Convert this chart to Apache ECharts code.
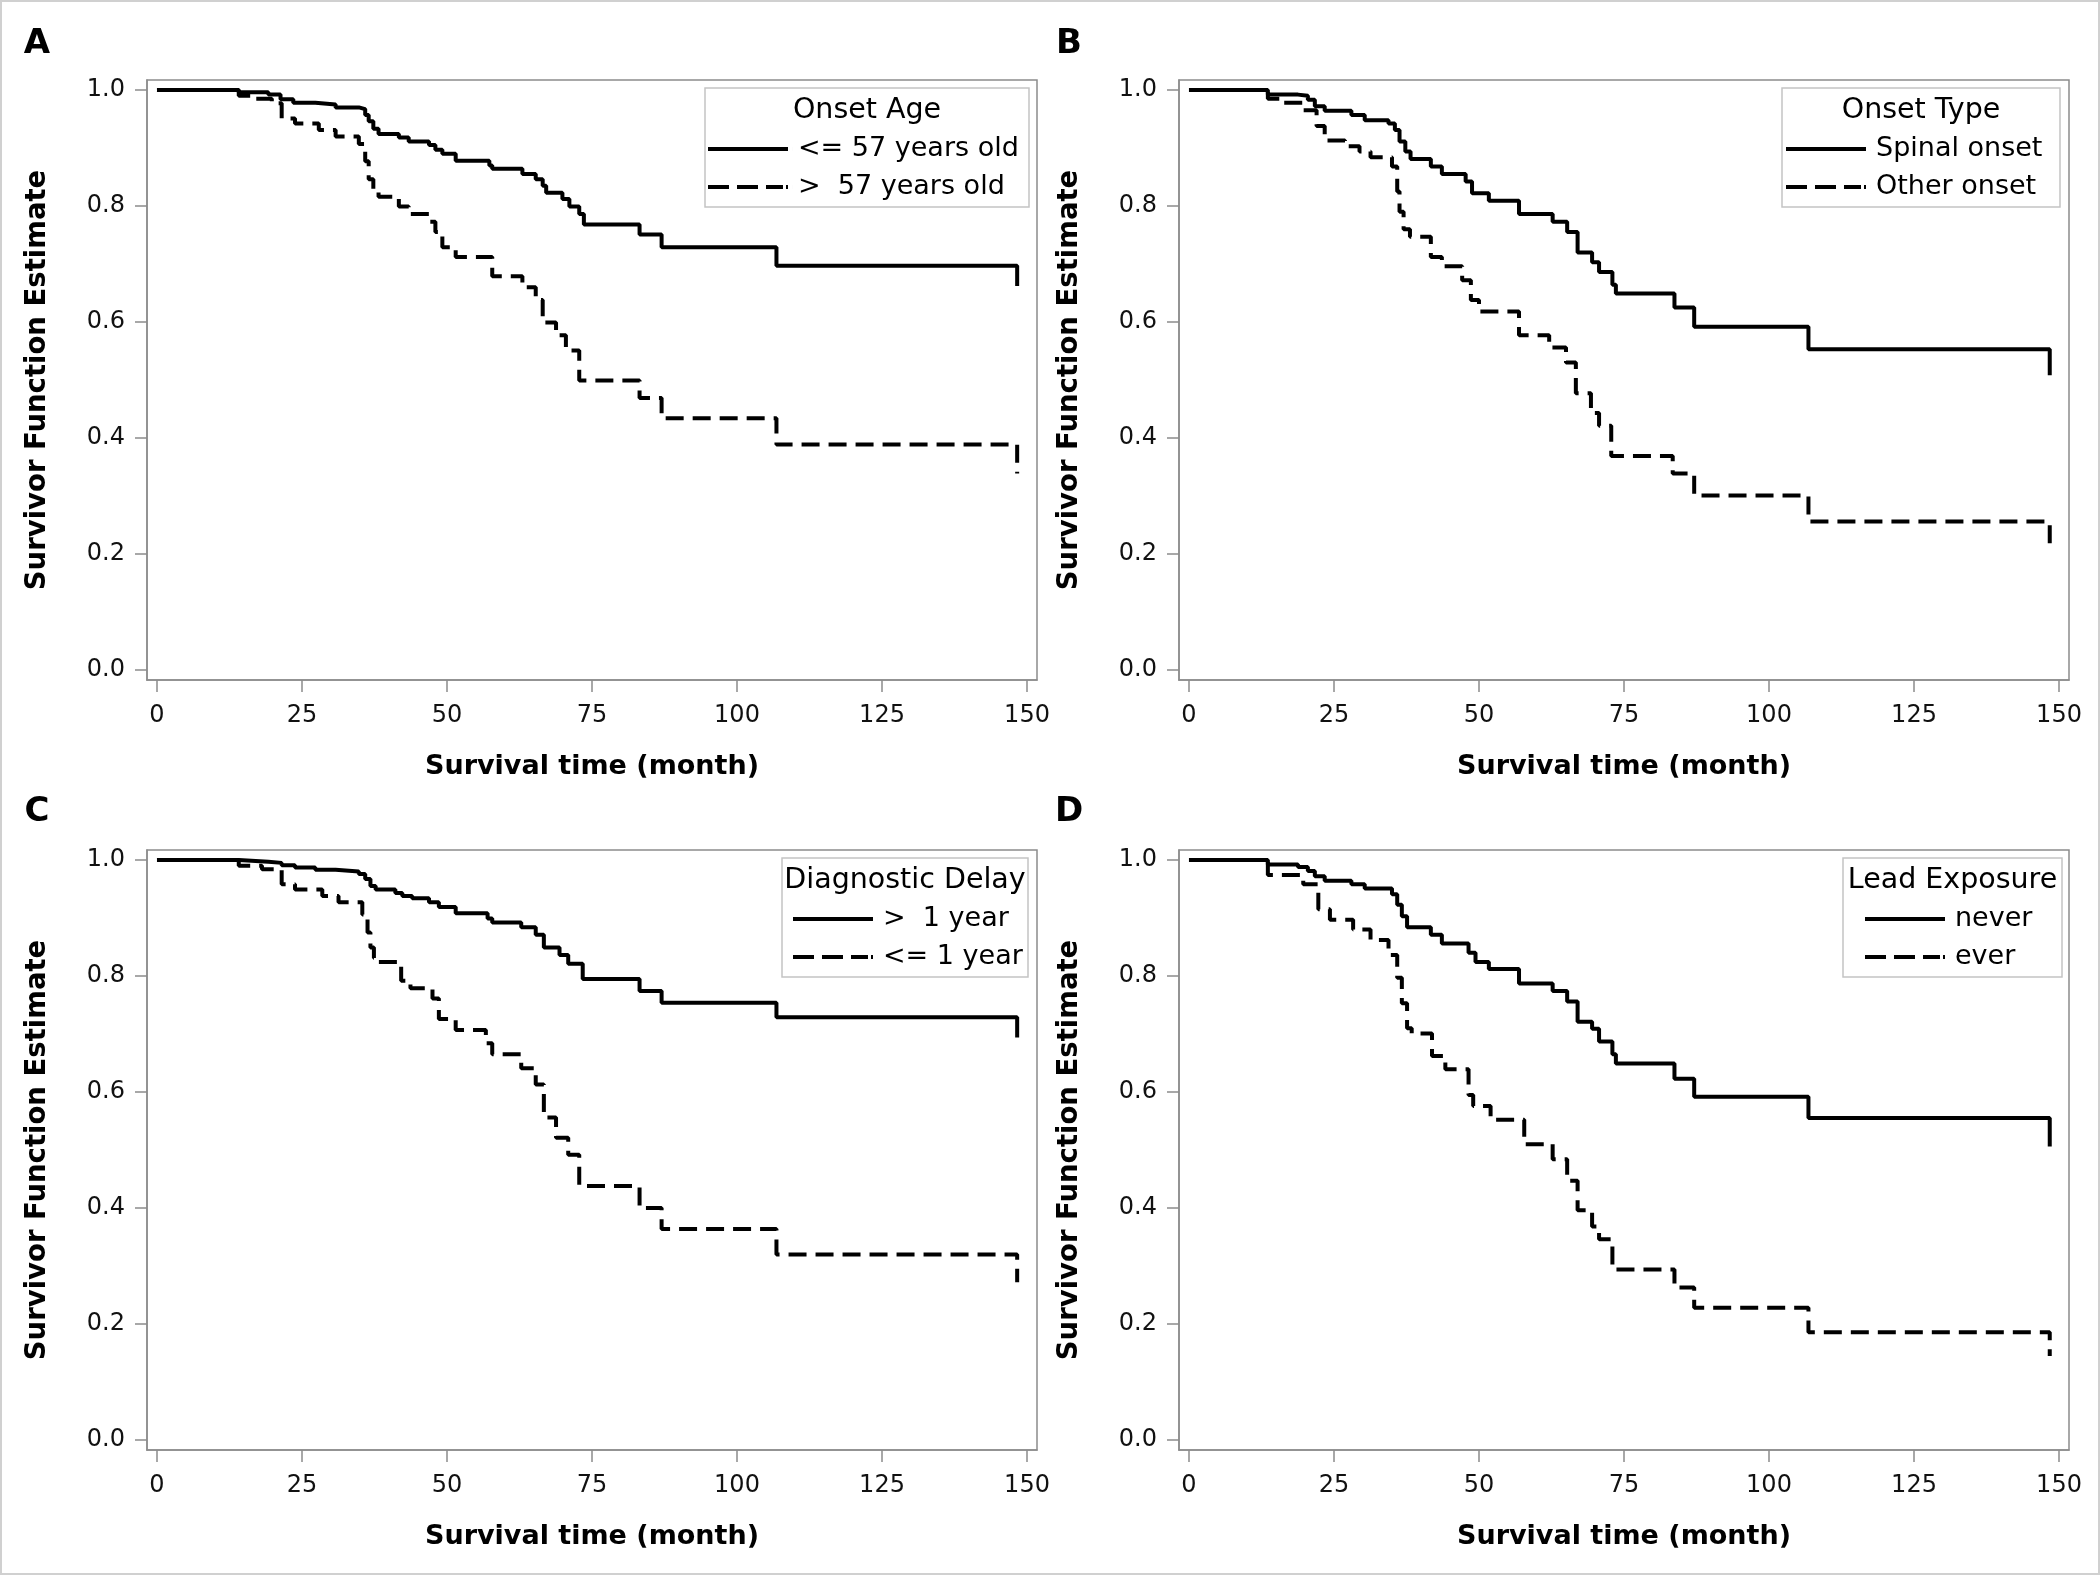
<!DOCTYPE html>
<html>
<head>
<meta charset="utf-8">
<script src="https://cdn.jsdelivr.net/npm/echarts@6/dist/echarts.min.js"></script>
<style>
html,body{margin:0;padding:0;background:#fff;}
#chart{width:2100px;height:1575px;}
</style>
</head>
<body>
<div id="chart"></div>
<script>
// ---------- data ----------
const xTicks = [0, 25, 50, 75, 100, 125, 150];
const yTicks = [0, 0.2, 0.4, 0.6, 0.8, 1.0];
const panelLetters = ['A', 'B', 'C', 'D'];
const legendTitles = ['Onset Age', 'Onset Type', 'Diagnostic Delay', 'Lead Exposure'];
const groupLabels = [
  ['<= 57 years old', '>  57 years old'],
  ['Spinal onset', 'Other onset'],
  ['>  1 year', '<= 1 year'],
  ['never', 'ever']
];
const xTitle = 'Survival time (month)';
const yTitle = 'Survivor Function Estimate';

// Panel A: onset age
const ageYoungTime = [0,14.1,19.2,21.3,23.5,27.3,30.8,34.8,35.9,36.5,37.3,38.2,41.7,43.4,46.9,48.0,49.2,51.5,57.3,57.8,63.0,65.3,66.5,67.1,69.9,71.1,72.8,73.6,83.2,87.0,106.8,148.3];
const ageYoungSurv = [1,0.996,0.992,0.984,0.978,0.975,0.970,0.967,0.957,0.946,0.933,0.924,0.918,0.911,0.905,0.897,0.890,0.878,0.870,0.864,0.855,0.846,0.835,0.823,0.812,0.799,0.786,0.768,0.751,0.729,0.697,0.662];
const ageOldTime = [0,14.1,16.9,19.8,21.5,23.8,27.9,30.8,34.8,35.9,36.5,37.3,38.2,41.7,43.4,46.9,48.0,49.2,51.5,57.8,63.0,65.3,66.5,68.8,70.5,72.8,83.2,87.0,106.8,148.3];
const ageOldSurv = [1,0.990,0.985,0.977,0.951,0.942,0.931,0.920,0.907,0.877,0.846,0.825,0.816,0.799,0.786,0.773,0.755,0.729,0.712,0.679,0.660,0.638,0.599,0.577,0.551,0.499,0.469,0.434,0.389,0.339];

// Panel B: onset type
const spinalTime = [0,13.6,18.8,20.5,21.7,23.4,28.0,30.3,34.4,35.5,36.3,37.3,38.2,41.7,43.6,47.7,48.8,51.7,56.9,62.7,65.2,67.0,69.5,70.7,73.0,73.6,83.7,87.1,106.8,148.4];
const spinalSurv = [1,0.992,0.990,0.983,0.972,0.964,0.957,0.948,0.942,0.931,0.911,0.894,0.881,0.868,0.855,0.842,0.822,0.809,0.786,0.773,0.755,0.720,0.703,0.686,0.664,0.649,0.625,0.592,0.553,0.508];
const otherTime = [0,13.6,15.9,19.7,22.0,23.4,26.9,29.4,31.3,35.0,35.9,36.3,37.0,38.1,41.7,43.6,47.1,48.6,50.0,56.9,62.1,65.0,66.7,69.3,70.7,72.8,83.4,87.1,106.8,148.4];
const otherSurv = [1,0.985,0.978,0.965,0.938,0.913,0.903,0.894,0.884,0.868,0.825,0.790,0.760,0.747,0.712,0.696,0.672,0.638,0.618,0.577,0.556,0.530,0.477,0.443,0.421,0.369,0.339,0.301,0.256,0.208];

// Panel C: diagnostic delay
const delayLongTime = [0,14.1,19.2,21.5,23.8,27.3,30.8,34.8,35.9,36.8,37.7,41.1,42.3,44.0,46.9,48.6,51.5,57.0,57.8,62.8,65.3,66.7,69.4,70.9,73.4,83.2,87.0,106.8,148.3];
const delayLongSurv = [1,0.997,0.995,0.991,0.987,0.983,0.980,0.976,0.967,0.955,0.949,0.943,0.938,0.934,0.927,0.919,0.908,0.899,0.892,0.884,0.871,0.849,0.836,0.821,0.795,0.774,0.754,0.729,0.694];
const delayShortTime = [0,14.1,18.1,21.5,23.8,28.5,31.3,35.4,36.3,36.8,37.4,38.2,42.1,43.7,47.5,48.6,51.5,56.7,57.8,62.8,65.3,66.7,68.8,70.9,72.8,83.2,87.0,106.8,148.3];
const delayShortSurv = [1,0.990,0.984,0.958,0.949,0.938,0.927,0.906,0.875,0.849,0.831,0.824,0.792,0.779,0.761,0.726,0.707,0.684,0.665,0.641,0.613,0.556,0.521,0.492,0.438,0.400,0.364,0.320,0.272];

// Panel D: lead exposure
const leadNeverTime = [0,13.6,18.8,20.5,21.7,23.4,28.0,30.3,35.0,35.9,36.7,37.6,41.7,43.6,48.2,49.4,51.7,56.9,62.7,65.2,67.0,69.5,70.7,73.0,73.6,83.7,87.1,106.8,148.4];
const leadNeverSurv = [1,0.992,0.988,0.981,0.972,0.964,0.958,0.951,0.941,0.923,0.903,0.884,0.871,0.856,0.840,0.824,0.812,0.787,0.774,0.756,0.721,0.709,0.687,0.665,0.649,0.623,0.592,0.555,0.506];
const leadEverTime = [0,13.6,19.7,22.3,24.3,28.3,31.3,34.4,35.9,36.7,37.6,38.4,41.9,44.2,48.2,49.0,52.0,57.8,62.7,65.2,67.0,69.5,70.7,73.0,83.7,87.1,106.8,148.4];
const leadEverSurv = [1,0.974,0.958,0.915,0.897,0.880,0.862,0.836,0.797,0.753,0.710,0.701,0.662,0.639,0.595,0.576,0.552,0.510,0.484,0.447,0.396,0.368,0.346,0.294,0.263,0.228,0.186,0.145];

const panelCurves = [
  [[ageYoungTime, ageYoungSurv], [ageOldTime, ageOldSurv]],
  [[spinalTime, spinalSurv], [otherTime, otherSurv]],
  [[delayLongTime, delayLongSurv], [delayShortTime, delayShortSurv]],
  [[leadNeverTime, leadNeverSurv], [leadEverTime, leadEverSurv]]
];

// ---------- layout / style ----------
const FRAME = '#8c8c8c';
const gridPos = [[147, 80], [1179, 80], [147, 850], [1179, 850]];
const GW = 890, GH = 600;
const legendBoxes = [[705, 88, 324, 119], [1782, 88, 278, 119], [782, 858, 246, 119], [1843, 858, 219, 119]];
const legendIconLeft = [708, 1786, 793, 1865];
const letterPos = [[37, 44], [1069, 44], [37, 812], [1069, 812]];
// icons carry an invisible sliver at x=85 so the text sits ~10px after the 80px line
const SOLID_ICON = 'path://M0,0H80V4H0Z M85,0H85.01V4H85Z';
const DASH_ICON = 'path://M0,0H21V4H0Z M29,0H50V4H29Z M58,0H75V4H58Z M78,0H80V4H78Z M85,0H85.01V4H85Z';
const DASH = [18, 9];
const TICK_FONT = 'DejaVu Sans';

const grid = [], xAxis = [], yAxis = [], series = [], legend = [], graphic = [];

graphic.push({type: 'rect', shape: {x: 1, y: 1, width: 2098, height: 1573},
  style: {fill: 'none', stroke: '#d0d0d0', lineWidth: 2}, silent: true});

for (let i = 0; i < 4; i++) {
  grid.push({left: gridPos[i][0], top: gridPos[i][1], width: GW, height: GH,
    show: true, borderColor: FRAME, borderWidth: 1.5, backgroundColor: 'transparent'});
  xAxis.push({
    type: 'value', gridIndex: i, min: -1.72, max: 151.72,
    name: xTitle, nameLocation: 'middle', nameGap: 73,
    nameTextStyle: {fontFamily: 'DejaVu Sans', fontWeight: 'bold', fontSize: 27, color: '#000'},
    axisLine: {show: true, onZero: false, lineStyle: {color: FRAME, width: 1.5}},
    axisTick: {show: true, length: 12, customValues: xTicks, lineStyle: {color: FRAME, width: 1.5}},
    axisLabel: {customValues: xTicks, margin: 24, fontFamily: TICK_FONT, fontSize: 24, color: '#111'},
    splitLine: {show: false}
  });
  yAxis.push({
    type: 'value', gridIndex: i, min: -0.0172, max: 1.0172,
    name: yTitle, nameLocation: 'middle', nameRotate: 90, nameGap: 95,
    nameTextStyle: {fontFamily: 'DejaVu Sans', fontWeight: 'bold', fontSize: 27.5, color: '#000'},
    axisLine: {show: true, onZero: false, lineStyle: {color: FRAME, width: 1.5}},
    axisTick: {show: true, length: 12, customValues: yTicks, lineStyle: {color: FRAME, width: 1.5}},
    axisLabel: {customValues: yTicks, margin: 22, fontFamily: TICK_FONT, fontSize: 24, color: '#111',
      formatter: v => v.toFixed(1)},
    splitLine: {show: false}
  });
  panelCurves[i].forEach((curve, k) => {
    const [t, s] = curve;
    series.push({
      type: 'line', name: groupLabels[i][k], xAxisIndex: i, yAxisIndex: i,
      data: t.map((tv, j) => [tv, s[j]]),
      step: 'end', symbol: 'none', showSymbol: false, silent: true,
      color: '#000',
      lineStyle: {color: '#000', width: 4, type: k === 0 ? 'solid' : DASH, cap: 'butt'},
      emphasis: {disabled: true}
    });
  });
  const lb = legendBoxes[i];
  legend.push({
    orient: 'vertical', left: legendIconLeft[i], top: lb[1] + 42, padding: 0, itemGap: 0,
    itemWidth: 85, itemHeight: 4, selectedMode: false,
    data: [{name: groupLabels[i][0], icon: SOLID_ICON}, {name: groupLabels[i][1], icon: DASH_ICON}],
    itemStyle: {color: '#000', borderWidth: 0},
    textStyle: {fontFamily: 'DejaVu Sans', fontSize: 27, color: '#000', lineHeight: 38}
  });
  graphic.push({type: 'rect', shape: {x: lb[0], y: lb[1], width: lb[2], height: lb[3]},
    style: {fill: '#fff', stroke: '#c4c4c4', lineWidth: 1.5}, silent: true, z: -1});
  graphic.push({type: 'text', x: lb[0] + lb[2] / 2, y: lb[1] + 23,
    style: {text: legendTitles[i], fontFamily: 'DejaVu Sans', fontSize: 28.5, fill: '#000',
      align: 'center', verticalAlign: 'middle', textAlign: 'center', textVerticalAlign: 'middle'}, silent: true});
  graphic.push({type: 'text', x: letterPos[i][0], y: letterPos[i][1],
    style: {text: panelLetters[i], fontFamily: 'DejaVu Sans', fontWeight: 'bold', fontSize: 34, fill: '#000',
      align: 'center', verticalAlign: 'middle', textAlign: 'center', textVerticalAlign: 'middle'}, silent: true});
}

const chart = echarts.init(document.getElementById('chart'), null, {renderer: 'canvas'});
chart.setOption({
  animation: false,
  backgroundColor: '#fff',
  grid, xAxis, yAxis, series, legend, graphic
});
</script>
</body>
</html>
